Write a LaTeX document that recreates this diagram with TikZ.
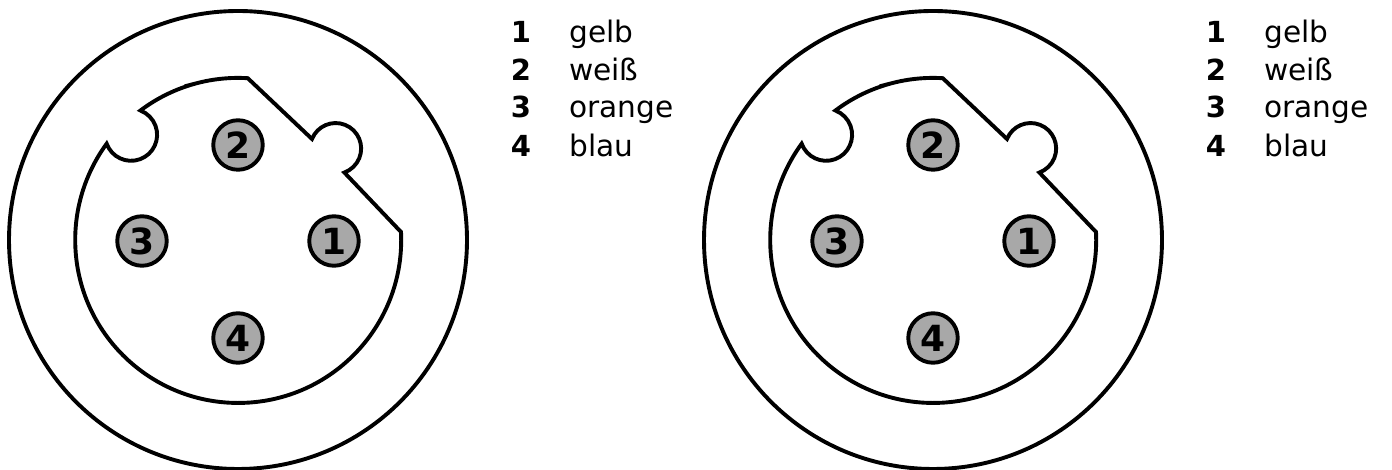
\documentclass[tikz,border=0pt]{standalone}
\usepackage{fontspec}
\setmainfont{DejaVu Sans}
\tikzset{
  x=1pt,y=1pt,
  line/.style={line width=3.9pt,black,line join=miter},
  pin/.style={circle,draw=black,line width=3.9pt,fill=pingray,minimum size=49.5pt,inner sep=0pt,font=\fontsize{36}{36}\selectfont\bfseries},
  num/.style={anchor=base,font=\fontsize{29}{29}\selectfont\bfseries,inner sep=0pt},
  colname/.style={anchor=base west,font=\fontsize{29.6}{29.6}\selectfont,inner sep=0pt},
}
\definecolor{pingray}{HTML}{A8A8A8}
\newcommand{\connector}[1]{%
\begin{scope}[xshift=#1]
  \draw[line] (238,230) circle[radius=229];
  \draw[line] (195.96,386.57)
     arc[start angle=105,end angle=86.5,radius=162] -- (312,331)
     arc[start angle=158,end angle=-70,radius=25.5] -- (401,238)
     arc[start angle=2.8,end angle=-216.2,radius=163]
     arc[start angle=200,end angle=429,radius=26]
     arc[start angle=127,end angle=105,radius=162] -- cycle;
  \node[pin] (p1#1) at (334,229) {1};
  \node[pin] (p2#1) at (238,325) {2};
  \node[pin] (p3#1) at (142,229) {3};
  \node[pin] (p4#1) at (238,132) {4};
  \node[num] (n1#1) at (521,427) {1};
  \node[num] (n2#1) at (521,389.5) {2};
  \node[num] (n3#1) at (521,352) {3};
  \node[num] (n4#1) at (521,313) {4};
  \node[colname] (c1#1) at (569,427) {gelb};
  \node[colname] (c2#1) at (569,389.5) {weiß};
  \node[colname] (c3#1) at (569,352) {orange};
  \node[colname] (c4#1) at (569,313) {blau};
\end{scope}}
\begin{document}
\begin{tikzpicture}[x=1pt,y=1pt]
\useasboundingbox (0,0) rectangle (1392,470);
\connector{0pt}
\connector{695pt}
\end{tikzpicture}
\end{document}
